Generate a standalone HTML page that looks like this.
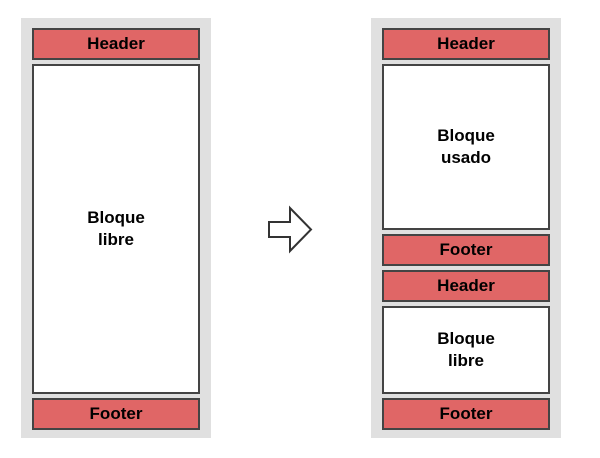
<!DOCTYPE html>
<html><head><meta charset="utf-8"><style>
body{margin:0;width:600px;height:458px;background:#fff;position:relative;font-family:"Liberation Sans",Arial,sans-serif;overflow:hidden}
.g{position:absolute;background:#e0e0e0}
.b{position:absolute;box-sizing:border-box;border:2px solid #444;display:flex;align-items:center;justify-content:center;text-align:center;font-weight:bold;font-size:17px;line-height:22px;color:#000}
.r{background:#e06666}
.w{background:#fff}
</style></head><body>
<div class="g" style="left:21px;top:18px;width:190px;height:420px"></div>
<div class="b r" style="left:32px;top:28px;width:168px;height:32px">Header</div>
<div class="b w" style="left:32px;top:64px;width:168px;height:330px">Bloque<br>libre</div>
<div class="b r" style="left:32px;top:398px;width:168px;height:32px">Footer</div>

<svg style="position:absolute;left:0;top:0" width="600" height="458"><polygon points="269,222 290,222 290,208 311,229.5 290,251 290,237 269,237" fill="#fff" stroke="#333" stroke-width="2"/></svg>

<div class="g" style="left:371px;top:18px;width:190px;height:420px"></div>
<div class="b r" style="left:382px;top:28px;width:168px;height:32px">Header</div>
<div class="b w" style="left:382px;top:64px;width:168px;height:166px">Bloque<br>usado</div>
<div class="b r" style="left:382px;top:234px;width:168px;height:32px">Footer</div>
<div class="b r" style="left:382px;top:270px;width:168px;height:32px">Header</div>
<div class="b w" style="left:382px;top:306px;width:168px;height:88px">Bloque<br>libre</div>
<div class="b r" style="left:382px;top:398px;width:168px;height:32px">Footer</div>
</body></html>
